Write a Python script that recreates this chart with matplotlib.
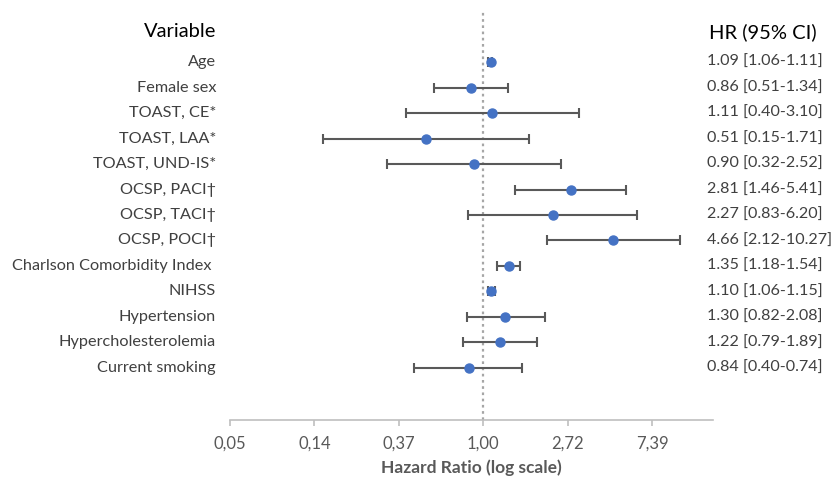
import matplotlib.pyplot as plt
import numpy as np
from matplotlib.transforms import blended_transform_factory

plt.rcParams['font.family'] = ['Lato', 'DejaVu Sans']

# data
labels = ['Age', 'Female sex', 'TOAST, CE*', 'TOAST, LAA*', 'TOAST, UND-IS*',
          'OCSP, PACI\u2020', 'OCSP, TACI\u2020', 'OCSP, POCI\u2020',
          'Charlson Comorbidity Index ', 'NIHSS', 'Hypertension',
          'Hypercholesterolemia', 'Current smoking']
hr = [1.09, 0.86, 1.11, 0.51, 0.90, 2.81, 2.27, 4.66, 1.35, 1.10, 1.30, 1.22, 0.84]
lo = [1.06, 0.56, 0.40, 0.15, 0.32, 1.46, 0.83, 2.12, 1.18, 1.06, 0.82, 0.79, 0.44]
hi = [1.11, 1.34, 3.10, 1.71, 2.52, 5.41, 6.20, 10.27, 1.54, 1.15, 2.08, 1.89, 1.59]
hr_text = ['1.09 [1.06-1.11]', '0.86 [0.51-1.34]', '1.11 [0.40-3.10]',
           '0.51 [0.15-1.71]', '0.90 [0.32-2.52]', '2.81 [1.46-5.41]',
           '2.27 [0.83-6.20]', '4.66 [2.12-10.27]', '1.35 [1.18-1.54]',
           '1.10 [1.06-1.15]', '1.30 [0.82-2.08]', '1.22 [0.79-1.89]',
           '0.84 [0.40-0.74]']
tick_vals = np.exp([-3, -2, -1, 0, 1, 2])
tick_labels = ['0,05', '0,14', '0,37', '1,00', '2,72', '7,39']

W, H = 838, 480
fig = plt.figure(figsize=(W / 100, H / 100), dpi=100)
ax = fig.add_axes([230 / W, 1 - 420 / H, (713 - 230) / W, (420 - 10) / H])

y = np.arange(len(labels))
hr = np.array(hr)
err = [hr - np.array(lo), np.array(hi) - hr]

ax.axvline(1, color='#a6a6a6', ls=(0, (1.2, 1.6)), lw=1.6, zorder=1)
ax.errorbar(hr, y, xerr=err, fmt='o', color='#4472c4', ms=6.5,
            ecolor='#595959', elinewidth=1.5, capsize=3.5, capthick=1.5, zorder=3)

ax.set_xscale('log')
ax.set_xlim(np.exp(-3.0), np.exp(2.72))
ax.set_ylim(14.04, -2.04)
ax.set_xticks(tick_vals)
ax.set_xticklabels(tick_labels)
ax.minorticks_off()
ax.set_yticks([])
for s in ['top', 'right', 'left']:
    ax.spines[s].set_visible(False)
ax.spines['bottom'].set_color('#bfbfbf')
ax.spines['bottom'].set_linewidth(1.2)
ax.tick_params(axis='x', colors='#bfbfbf', length=4, width=1.2, labelcolor='#595959',
               labelsize=12, pad=7)
ax.set_xlabel('Hazard Ratio (log scale)', fontsize=12.5, fontweight='bold',
              color='#595959', labelpad=6)

tr = blended_transform_factory(fig.transFigure, ax.transData)
for i, (lab, txt) in enumerate(zip(labels, hr_text)):
    ax.text(216 / W, i, lab, transform=tr, ha='right', va='center',
            fontsize=11.7, color='#404040')
    ax.text(707 / W, i, txt, transform=tr, ha='left', va='center',
            fontsize=11.6, color='#404040')

ax.text(216 / W, -1.18, 'Variable', transform=tr, ha='right', va='center',
        fontsize=14.5, color='black')
ax.text(709 / W, -1.18, 'HR (95% CI)', transform=tr, ha='left', va='center',
        fontsize=14.5, color='black')

fig.savefig('out.png', dpi=100)
